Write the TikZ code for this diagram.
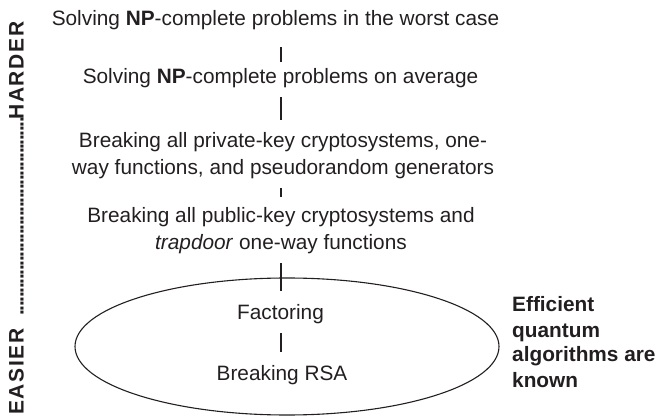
\documentclass[tikz,border=0pt]{standalone}
\usepackage{fontspec}
\setmainfont{Liberation Sans}
\usetikzlibrary{shapes.geometric}
\definecolor{ink}{HTML}{231F20}
\tikzset{
  lbl/.style={font=\fontsize{20.8}{27}\selectfont, inner sep=0pt, text=ink, align=center, anchor=base},
  conn/.style={draw=ink, line width=1.1pt},
  side/.style={font=\fontsize{20.8}{25}\selectfont\bfseries, align=left, inner sep=0pt, text=ink, anchor=base west},
  axislbl/.style={font=\fontsize{21}{22}\selectfont\bfseries, rotate=90, inner sep=0pt, anchor=base west, text=ink},
  oval/.style={ellipse, draw=ink, line width=1.1pt, inner sep=0pt}
}
\begin{document}
\begin{tikzpicture}[x=1pt,y=-1pt]
\useasboundingbox (0,0) rectangle (661,419);
\coordinate (cx) at (281,0);
\node[lbl] (l1) at (275.5,26) {Solving \textbf{NP}-complete problems in the worst case};
\node[lbl] (l2) at (280.5,84) {Solving \textbf{NP}-complete problems on average};
\node[lbl] (l3) at (283,175) {Breaking all private-key cryptosystems, one-\\way functions, and pseudorandom generators};
\node[lbl] (l4) at (281,250) {Breaking all public-key cryptosystems and\\\textit{trapdoor} one-way functions};
\node[oval, minimum width=424pt, minimum height=137pt] (ell) at (287,346.5) {};
\node[lbl] (fac) at (280.5,320) {Factoring};
\node[lbl] (rsa) at (282,381) {Breaking RSA};
\node[side] (eff) at (512,387) {Efficient\\quantum\\algorithms are\\known};
\node[axislbl] (easier) at (23.5,415) {\addfontfeature{LetterSpace=8.1}EASIER};
\node[axislbl] (dots) at (23.5,316) {\addfontfeature{LetterSpace=-6.4}............................................};
\node[axislbl] (harder) at (23.5,120) {\addfontfeature{LetterSpace=8.1}HARDER};
\draw[conn, shorten <=16.6pt, shorten >=6.8pt] (l1.south -| cx) -- (l2.north -| cx);
\draw[conn, shorten <=8.6pt, shorten >=12.8pt] (l2.south -| cx) -- (l3.north -| cx);
\draw[conn, shorten <=8.6pt, shorten >=10.8pt] (l3.south -| cx) -- (l4.north -| cx);
\draw[conn, shorten <=8.6pt, shorten >=13.8pt] (l4.south -| cx) -- (fac.north -| cx);
\draw[conn, shorten <=8.6pt, shorten >=13.8pt] (fac.south -| cx) -- (rsa.north -| cx);
\end{tikzpicture}
\end{document}
